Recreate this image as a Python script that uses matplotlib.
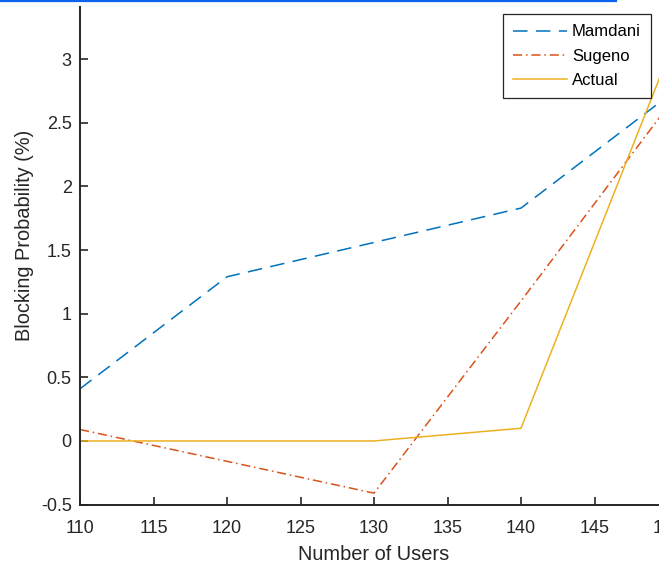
import matplotlib
matplotlib.use("Agg")
import matplotlib.pyplot as plt
from matplotlib.lines import Line2D
from matplotlib.patches import Rectangle

plt.rcParams['font.family'] = ['Liberation Sans', 'DejaVu Sans']

# datos
usuarios = [110, 120, 130, 140, 150]
mamdani = [0.41, 1.29, 1.56, 1.83, 2.71]
sugeno = [0.09, -0.16, -0.41, 1.10, 2.63]
actual = [0.0, 0.0, 0.0, 0.10, 3.02]

yticks = [-0.5, 0, 0.5, 1, 1.5, 2, 2.5, 3]
ytick_labels = ['-0.5', '0', '0.5', '1', '1.5', '2', '2.5', '3']
xticks = [110, 115, 120, 125, 130, 135, 140, 145, 150]

W, H = 665, 568
fig = plt.figure(figsize=(W / 100, H / 100), dpi=100)
# ejes (en pixeles) -> coordenadas de figura
x0, x1, y_top, y_bot = 80, 668, 7, 504.6
ax = fig.add_axes([x0 / W, 1 - y_bot / H, (x1 - x0) / W, (y_bot - y_top) / H])

ax.plot(usuarios, mamdani, color='#0072BD', lw=1.1, dashes=(9.5, 5.5), label='Mamdani')
ax.plot(usuarios, sugeno, color='#D95319', lw=1.1, dashes=(6, 2.5, 1, 2.5), label='Sugeno')
ax.plot(usuarios, actual, color='#EDB120', lw=1.1, label='Actual')

ax.set_xlim(110, 150)
ax.set_ylim(-0.5, 3.41)
ax.set_xticks(xticks)
ax.set_yticks(yticks)
ax.set_yticklabels(ytick_labels)
ax.tick_params(direction='in', length=6, width=1.2, labelsize=13, colors='#262626', pad=6)
ax.tick_params(axis='x', pad=11)
for lado in ['top', 'right']:
    ax.spines[lado].set_visible(False)
for lado in ['left', 'bottom']:
    ax.spines[lado].set_linewidth(1.4)
    ax.spines[lado].set_color('#262626')

ax.set_xlabel('Number of Users', fontsize=14.4, color='#262626')
ax.set_ylabel('Blocking Probability (%)', fontsize=14.4, color='#262626')
ax.xaxis.set_label_coords((374 - x0) / (x1 - x0), (y_bot - 545) / (y_bot - y_top))
ax.yaxis.set_label_coords((34 - x0) / (x1 - x0), (y_bot - 235) / (y_bot - y_top))

leg = ax.legend(loc='upper right', bbox_to_anchor=(651 / W, 1 - 14 / H),
                bbox_transform=fig.transFigure, fontsize=12, handlelength=3.2,
                fancybox=False, framealpha=1, borderpad=0.62, labelspacing=0.55,
                handletextpad=0.3, borderaxespad=0)
leg.get_frame().set_edgecolor('#262626')
leg.get_frame().set_linewidth(0.9)

# recorte del borde derecho y linea azul superior (como en la imagen)
fig.patches.append(Rectangle((659 / W, 0), 1 - 659 / W, 1, transform=fig.transFigure,
                             facecolor='white', edgecolor='none', zorder=10))
fig.add_artist(Line2D([0, 616 / W], [1 - 1 / H, 1 - 1 / H], transform=fig.transFigure,
                      color='#0a64f0', lw=1.6))

fig.savefig('out.png', dpi=100)
